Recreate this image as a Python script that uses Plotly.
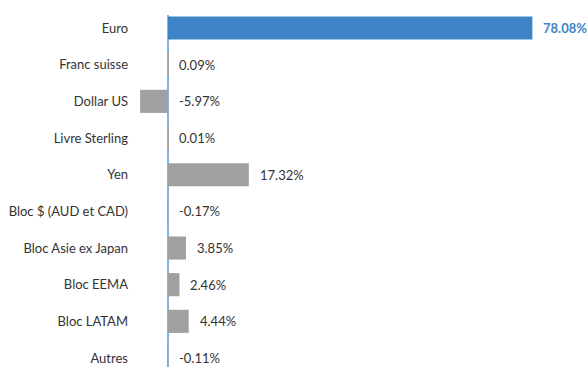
import plotly.graph_objects as go

# Currency exposure breakdown (%)
categories = ["Euro", "Franc suisse", "Dollar US", "Livre Sterling", "Yen",
              "Bloc $ (AUD et CAD)", "Bloc Asie ex Japan", "Bloc EEMA",
              "Bloc LATAM", "Autres"]
values = [78.08, 0.09, -5.97, 0.01, 17.32, -0.17, 3.85, 2.46, 4.44, -0.11]
value_labels = ["78.08%", "0.09%", "-5.97%", "0.01%", "17.32%", "-0.17%",
                "3.85%", "2.46%", "4.44%", "-0.11%"]

BLUE = "#3d85c6"
GREY = "#a0a0a0"
FONT = "Lato, Roboto, sans-serif"

colors = [BLUE] + [GREY] * (len(values) - 1)

fig = go.Figure(go.Bar(
    x=values, y=categories, orientation="h",
    marker=dict(color=colors, line=dict(width=0)),
    width=0.63, hoverinfo="skip",
))

# value labels: just right of the bar end (or of zero for negative bars)
for i, (cat, v, lab) in enumerate(zip(categories, values, value_labels)):
    first = i == 0
    fig.add_annotation(
        x=max(v, 0), y=cat, text=f"<b>{lab}</b>" if first else lab,
        xanchor="left", yanchor="middle", xshift=9, showarrow=False,
        font=dict(family=FONT, size=13, color=BLUE if first else "#333333"),
    )

fig.update_layout(
    width=588, height=367,
    margin=dict(l=140, r=0, t=15, b=0),
    paper_bgcolor="white", plot_bgcolor="white",
    showlegend=False,
    font=dict(family=FONT, size=13, color="#333333"),
    xaxis=dict(range=[-6, 90], showgrid=False, showticklabels=False,
               zeroline=True, zerolinecolor="#7fb2e0", zerolinewidth=2,
               showline=False, ticks=""),
    yaxis=dict(type="category", range=[9.245, -0.355], showgrid=False,
               zeroline=False, showline=False, ticks="", ticklabelstandoff=11,
               tickfont=dict(family=FONT, size=13, color="#333333")),
)

fig.write_html("out.html")
